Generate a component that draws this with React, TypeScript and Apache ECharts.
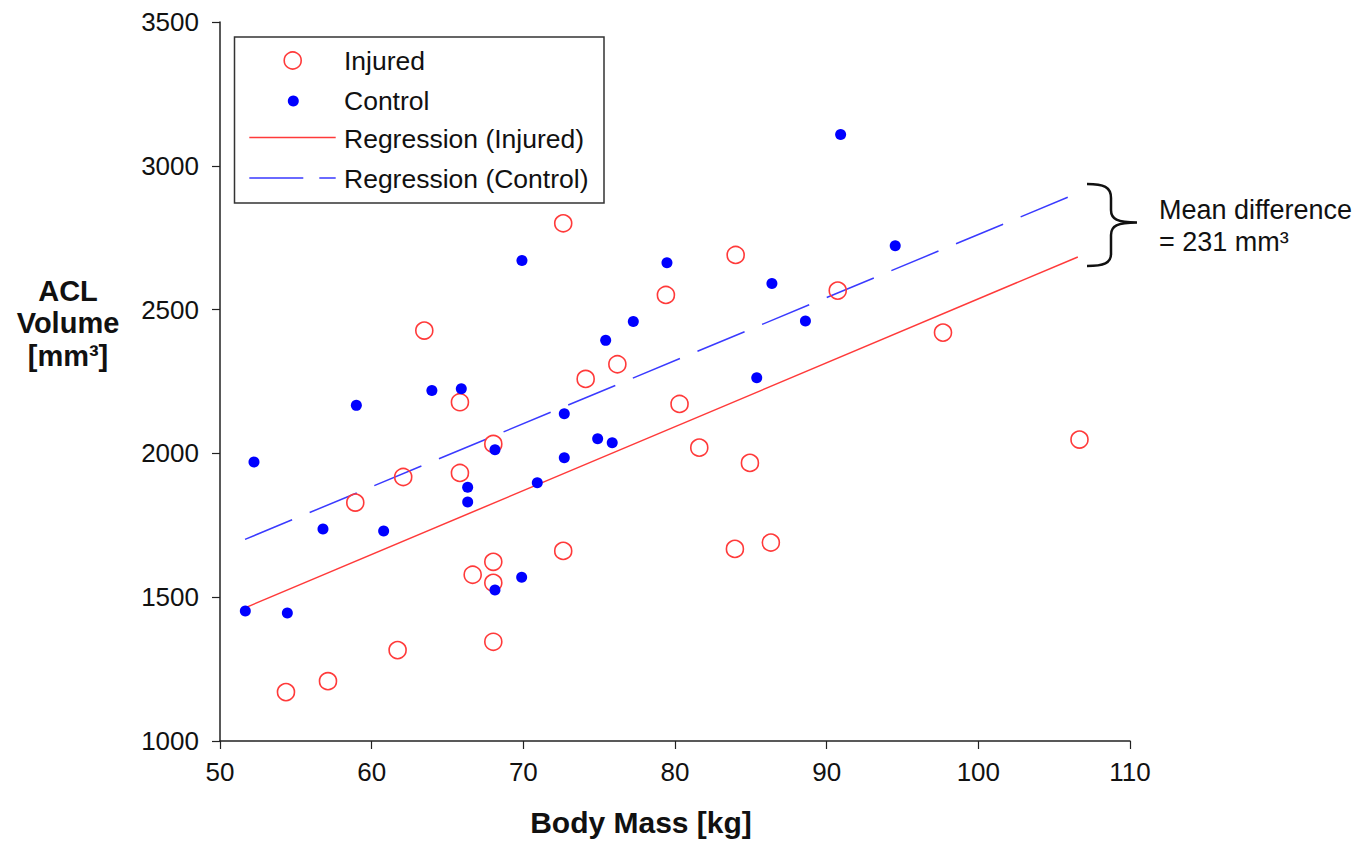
import React, { useEffect, useRef } from "react";
import * as echarts from "echarts";

// ---------- data ----------
const injuredMass = [54.35, 57.12, 61.71, 58.92, 62.08, 63.47, 65.82, 65.82, 68.02, 66.66, 68.02, 68.02, 68.02, 72.63, 72.63, 74.11, 76.2, 79.4, 80.3, 81.6, 84.0, 83.95, 84.94, 86.32, 90.73, 97.67, 106.67];
const injuredVolume = [1170, 1208, 1316, 1829, 1918, 2427, 2178, 1932, 2033, 1578, 1623, 1550, 1345, 2800, 1661, 2259, 2310, 2551, 2172, 2020, 2690, 1668, 1967, 1690, 2566, 2420, 2048];

const controlMass = [51.67, 54.44, 52.24, 56.79, 58.99, 60.79, 63.97, 65.91, 66.33, 66.33, 68.13, 68.13, 69.89, 69.91, 70.92, 72.7, 72.7, 74.9, 75.86, 75.43, 77.25, 79.47, 85.39, 86.39, 88.6, 90.92, 94.52];
const controlVolume = [1452, 1445, 1970, 1737, 2167, 1730, 2219, 2225, 1882, 1831, 2013, 1525, 1569, 2671, 1898, 2138, 1985, 2051, 2037, 2393, 2459, 2663, 2263, 2591, 2460, 3109, 2722];

const regInjuredMass = [51.65, 106.56];
const regInjuredVolume = [1463, 2683];
const regControlMass = [51.65, 106.56];
const regControlVolume = [1701, 2905];

const legendLabels = ["Injured", "Control", "Regression (Injured)", "Regression (Control)"];
const xTitle = "Body Mass [kg]";
const yTitleLines = ["ACL", "Volume", "[mm\u00B3]"];
const noteLines = ["Mean difference", "= 231 mm\u00B3"];

const RED = "#ff3a3a";
const BLUE = "#0000ff";
const BLUE_LINE = "#3a3aff";
const FONT = "'Liberation Sans', Arial, Helvetica, sans-serif";

const braceD =
  "M1087,184 C1104,184 1111,187 1111,198 L1111,210 C1111,219 1117,222.5 1137,222.5 C1117,222.5 1111,226 1111,235 L1111,254 C1111,263 1104,266 1087,266";
echarts.graphic.registerShape("brace", echarts.graphic.extendPath(braceD, {}));

const zip = (a: number[], b: number[]) => a.map((v, i) => [v, b[i]]);

export default function App() {
  const ref = useRef<HTMLDivElement>(null);
  useEffect(() => {
    if (!ref.current) return;
    const chart = echarts.init(ref.current, undefined, { renderer: "svg" });
    const axisCommon = {
      axisLine: { show: true, lineStyle: { color: "#222", width: 1.5 } },
      axisTick: { show: true, inside: false, length: 8, lineStyle: { color: "#222", width: 1.2 } },
      splitLine: { show: false },
    };
    const textStyle = (s: any) => ({ fontFamily: FONT, fill: "#111", ...s });
    chart.setOption({
      animation: false,
      backgroundColor: "#fff",
      grid: { left: 220, right: 241, top: 22, bottom: 101, containLabel: false },
      xAxis: {
        type: "value",
        min: 50,
        max: 110,
        interval: 10,
        ...axisCommon,
        axisLabel: { fontSize: 26, color: "#111", fontFamily: FONT, margin: 18, formatter: (v: number) => String(v) },
      },
      yAxis: {
        type: "value",
        min: 1000,
        max: 3500,
        interval: 500,
        ...axisCommon,
        axisLabel: { fontSize: 26, color: "#111", fontFamily: FONT, margin: 21, formatter: (v: number) => String(v) },
      },
      series: [
        {
          name: legendLabels[2],
          type: "line",
          data: zip(regInjuredMass, regInjuredVolume),
          showSymbol: false,
          symbol: "none",
          lineStyle: { color: RED, width: 1.5 },
          z: 1,
        },
        {
          name: legendLabels[3],
          type: "line",
          data: zip(regControlMass, regControlVolume),
          showSymbol: false,
          symbol: "none",
          lineStyle: { color: BLUE_LINE, width: 1.5, type: [51, 19] },
          z: 1,
        },
        {
          name: legendLabels[0],
          type: "scatter",
          data: zip(injuredMass, injuredVolume),
          symbol: "circle",
          symbolSize: 17,
          itemStyle: { color: "rgba(0,0,0,0)", borderColor: RED, borderWidth: 1.6, opacity: 1 },
          z: 3,
        },
        {
          name: legendLabels[1],
          type: "scatter",
          data: zip(controlMass, controlVolume),
          symbol: "circle",
          symbolSize: 11,
          itemStyle: { color: BLUE, opacity: 1 },
          z: 4,
        },
      ],
      graphic: [
        // legend box
        { type: "rect", shape: { x: 234.5, y: 37, width: 369.5, height: 166 }, style: { fill: "none", stroke: "#333", lineWidth: 1.5 }, z: 10 },
        { type: "circle", shape: { cx: 292.7, cy: 60.5, r: 8.5 }, style: { fill: "none", stroke: RED, lineWidth: 1.6 }, z: 10 },
        { type: "circle", shape: { cx: 293.3, cy: 101, r: 5.5 }, style: { fill: BLUE }, z: 10 },
        { type: "line", shape: { x1: 249.3, y1: 137.5, x2: 335.7, y2: 137.5 }, style: { stroke: RED, lineWidth: 1.5 }, z: 10 },
        { type: "line", shape: { x1: 249.3, y1: 178, x2: 335.7, y2: 178 }, style: { stroke: BLUE_LINE, lineWidth: 1.5, lineDash: [54, 16] }, z: 10 },
        { type: "text", x: 344, y: 61, style: textStyle({ text: legendLabels[0], fontSize: 26.5, verticalAlign: "middle", align: "left" }), z: 10 },
        { type: "text", x: 344, y: 101, style: textStyle({ text: legendLabels[1], fontSize: 26.5, verticalAlign: "middle", align: "left" }), z: 10 },
        { type: "text", x: 344, y: 138.5, style: textStyle({ text: legendLabels[2], fontSize: 26.5, verticalAlign: "middle", align: "left" }), z: 10 },
        { type: "text", x: 344, y: 179, style: textStyle({ text: legendLabels[3], fontSize: 26.5, verticalAlign: "middle", align: "left" }), z: 10 },
        // axis titles
        { type: "text", x: 641, y: 822, style: textStyle({ text: xTitle, fontSize: 30, fontWeight: "bold", align: "center", verticalAlign: "middle" }) },
        { type: "text", x: 68, y: 291, style: textStyle({ text: yTitleLines[0], fontSize: 29, fontWeight: "bold", align: "center", verticalAlign: "middle" }) },
        { type: "text", x: 68, y: 323, style: textStyle({ text: yTitleLines[1], fontSize: 29, fontWeight: "bold", align: "center", verticalAlign: "middle" }) },
        { type: "text", x: 68, y: 356, style: textStyle({ text: yTitleLines[2], fontSize: 29, fontWeight: "bold", align: "center", verticalAlign: "middle" }) },
        // brace + note
        { type: "brace", x: 0, y: 0, style: { fill: "none", stroke: "#111", lineWidth: 2.5 } },
        { type: "text", x: 1159, y: 210, style: textStyle({ text: noteLines[0], fontSize: 27, align: "left", verticalAlign: "middle" }) },
        { type: "text", x: 1159, y: 242, style: textStyle({ text: noteLines[1], fontSize: 27, align: "left", verticalAlign: "middle" }) },
      ],
    });
    return () => chart.dispose();
  }, []);
  return (
    <div
      ref={ref}
      style={{ position: "fixed", left: 0, top: 0, width: 1371, height: 842, background: "#fff" }}
    />
  );
}
